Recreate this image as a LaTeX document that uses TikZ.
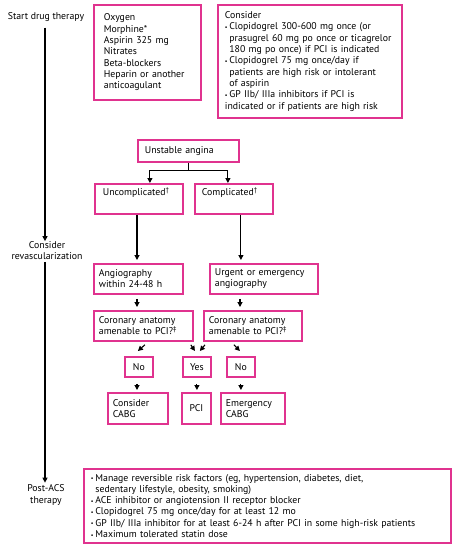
\documentclass[tikz,border=0pt]{standalone}
\usepackage{fontspec}
\setmainfont{PT Sans}
\usepackage{graphicx}
\usetikzlibrary{arrows.meta}
\definecolor{frame}{HTML}{E0338F}
\newcommand{\bul}{\makebox[4.5pt][l]{\raisebox{0.1ex}{\scalebox{0.6}{•}}}}
\newcommand{\ind}{\hspace*{4.5pt}}

\begin{document}
\begin{tikzpicture}[x=1pt, y=-1pt,
  box/.style={draw=frame, line width=1.8pt, anchor=north west, align=left,
              inner ysep=0pt, font=\fontsize{9.8}{11.3}\selectfont},
  tag/.style={draw=frame, line width=1.8pt, anchor=north west, align=center,
              inner sep=0pt, font=\fontsize{9.8}{11.3}\selectfont},
  lbl/.style={inner sep=0pt, align=center, font=\fontsize{9.8}{11.3}\selectfont},
  arr/.style={-{Triangle[length=5pt,width=5pt]}, line width=1.1pt}
]
  \useasboundingbox (0,0) rectangle (454,546);

  % time line
  \node[lbl] (start) at (46,17) {Start drug therapy};
  \node[lbl] (revasc) at (47,250.5) {Consider\\revascularization};
  \node[lbl] (postlbl) at (46,495) {Post-ACS\\therapy};
  \draw[arr, shorten <=6pt] (start.south -| 45,0) -- (revasc.north -| 45,0);
  \draw[arr, shorten <=2pt, shorten >=2pt] (revasc.south -| 45,0) -- (postlbl.north -| 45,0);

  % drug therapy
  \node[box, inner xsep=10pt, text width=87pt, minimum height=95pt] (drug) at (93,4)
    {Oxygen\\Morphine*\\Aspirin 325 mg\\Nitrates\\Beta-blockers\\Heparin or another\\anticoagulant};
  \node[box, inner xsep=7pt, text width=170pt, minimum height=113pt] (consider) at (217,4)
    {Consider\\
     \bul Clopidogrel 300-600 mg once (or\\
     \ind prasugrel 60 mg po once or ticagrelor\\
     \ind 180 mg po once) if PCI is indicated\\
     \bul Clopidogrel 75 mg once/day if\\
     \ind patients are high risk or intolerant\\
     \ind of aspirin\\
     \bul GP IIb/ IIIa inhibitors if PCI is\\
     indicated or if patients are high risk};

  % unstable angina
  \node[box, inner xsep=7pt, text width=87pt, minimum height=22pt] (ua) at (137,139) {Unstable angina};
  \node[box, inner xsep=8pt, text width=72pt, minimum height=30pt] (unc) at (94,183)
    {Uncomplicated\textsuperscript{†}\\\strut};
  \node[box, inner xsep=7pt, text width=64pt, minimum height=30pt] (comp) at (194,183)
    {Complicated\textsuperscript{†}\\\strut};

  \draw[line width=1.1pt] (ua.south) -- ++(0,8) coordinate (split);
  \draw[arr] (split) -| ([xshift=11pt]unc.north);
  \draw[arr] (split) -| ([xshift=-6pt]comp.north);

  % angiography
  \node[box, inner xsep=5pt, text width=79pt, minimum height=30pt] (angio) at (93,263)
    {Angiography\\within 24-48 h};
  \node[box, inner xsep=5pt, text width=98pt, minimum height=30pt] (urgent) at (209,263)
    {Urgent or emergency\\angiography};
  \node[box, inner xsep=5pt, text width=89pt, minimum height=30pt] (corL) at (93,310)
    {Coronary anatomy\\amenable to PCI?\textsuperscript{‡}};
  \node[box, inner xsep=5pt, text width=88pt, minimum height=30pt] (corR) at (203,310)
    {Coronary anatomy\\amenable to PCI?\textsuperscript{‡}};

  \draw[arr, shorten >=3pt] (unc.south -| 137,0) -- (angio.north -| 137,0);
  \draw[arr, shorten >=3pt] ([xshift=7pt]comp.south) -- ([xshift=7pt]comp.south |- urgent.north);
  \draw[arr, shorten <=4pt, shorten >=3pt] (angio.south -| 137,0) -- (corL.north -| 137,0);
  \draw[arr, shorten <=4pt, shorten >=3pt] (urgent.south -| 240,0) -- (corR.north -| 240,0);

  % yes / no
  \node[tag, minimum width=28pt, minimum height=20pt] (noL) at (124,356) {No};
  \node[tag, minimum width=28pt, minimum height=20pt] (yes) at (182,356) {Yes};
  \node[tag, minimum width=28pt, minimum height=20pt] (noR) at (226,356) {No};

  \draw[arr] ([shift={(1.5,3)}]corL.south) -- ([shift={(-1,-5)}]noL.north);
  \draw[arr] ([shift={(-3,3)}]corL.south east) -- ([shift={(-2,-5)}]yes.north);
  \draw[arr] ([shift={(2,3)}]corR.south west) -- ([shift={(3,-5)}]yes.north);
  \draw[arr] ([shift={(-19,3)}]corR.south) -- ([shift={(-1,-5)}]noR.north);

  % treatment
  \node[box, inner xsep=5pt, text width=50pt, minimum height=31pt] (cabg) at (107,392)
    {Consider\\CABG};
  \node[tag, minimum width=29pt, minimum height=31pt] (pci) at (181,392) {PCI};
  \node[box, inner xsep=5pt, text width=54pt, minimum height=31pt] (ecabg) at (220,392)
    {Emergency\\CABG};

  \draw[arr, shorten <=6pt, shorten >=2pt] (noL.south -| 137,0) -- (cabg.north -| 137,0);
  \draw[arr, shorten <=6pt, shorten >=2pt] (yes.south) -- (yes.south |- pci.north);
  \draw[arr, shorten <=6pt, shorten >=2pt] (noR.south) -- (noR.south |- ecabg.north);

  % post-ACS
  \node[box, inner xsep=7pt, text width=353pt, minimum height=74pt] (post) at (83,468)
    {\bul Manage reversible risk factors (eg, hypertension, diabetes, diet,\\
     \ind sedentary lifestyle, obesity, smoking)\\
     \bul ACE inhibitor or angiotension II receptor blocker\\
     \bul Clopidogrel 75 mg once/day for at least 12 mo\\
     \bul GP IIb/ IIIa inhibitor for at least 6-24 h after PCI in some high-risk patients\\
     \bul Maximum tolerated statin dose};
\end{tikzpicture}
\end{document}
